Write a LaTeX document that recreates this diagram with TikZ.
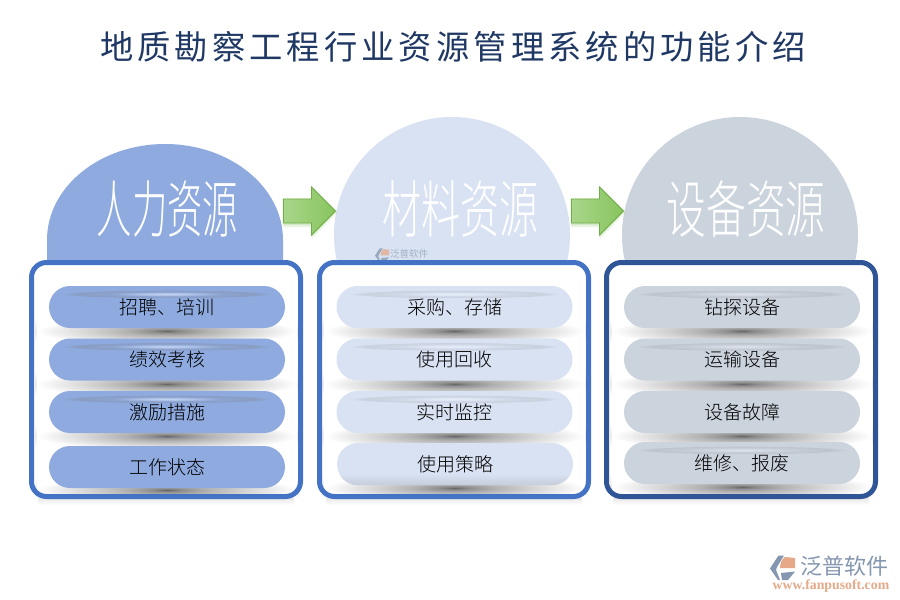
\documentclass[tikz,border=0pt]{standalone}
\usepackage{fontspec}
\newfontfamily\cjk{Noto Sans CJK SC}
\newfontfamily\cjklight[UprightFont={* Light}]{Noto Sans CJK SC}
\newfontfamily\cjktitle[LetterSpace=12.2]{Noto Sans CJK SC}
\setmainfont{Liberation Serif}
\definecolor{pa}{HTML}{8EAADF}
\definecolor{pb}{HTML}{D9E2F3}
\definecolor{pc}{HTML}{CBD3DD}
\definecolor{bluea}{HTML}{4472C4}
\definecolor{blueb}{HTML}{2F5597}
\definecolor{navy}{HTML}{1F3864}
\definecolor{logog}{HTML}{8496B0}
\definecolor{logoo}{HTML}{E5A98A}
\definecolor{arrowedge}{HTML}{70AD47}
\definecolor{arrowl}{HTML}{A8D68A}
\definecolor{arrowr}{HTML}{88C45E}
\definecolor{arrowglow}{HTML}{A9D18E}
\pgfdeclareradialshading{undershade}{\pgfpoint{0bp}{0bp}}{color(0bp)=(black!60); color(3bp)=(black!44); color(8bp)=(black!30); color(15bp)=(black!17); color(21bp)=(black!7); color(25bp)=(white); color(50bp)=(white)}
\pgfdeclareradialshading{glossa}{\pgfpoint{0bp}{0bp}}{color(0bp)=(pa!50!white); color(7bp)=(pa!75!white); color(13bp)=(pa!85!gray); color(21bp)=(pa!70!gray); color(25bp)=(pa); color(50bp)=(pa)}
\pgfdeclareradialshading{glossb}{\pgfpoint{0bp}{0bp}}{color(0bp)=(pb!65!white); color(7bp)=(pb!90!white); color(13bp)=(pb!90!gray); color(21bp)=(pb!82!gray); color(25bp)=(pb); color(50bp)=(pb)}
\pgfdeclareradialshading{glossc}{\pgfpoint{0bp}{0bp}}{color(0bp)=(pc!60!white); color(7bp)=(pc!90!white); color(13bp)=(pc!92!gray); color(21bp)=(pc!82!gray); color(25bp)=(pc); color(50bp)=(pc)}
\tikzset{
  x=1pt,y=-1pt,
  pilltext/.style={text=black,font=\cjklight\fontsize{19}{21}\selectfont,inner sep=0pt},
  pill/.style={pilltext,rounded corners=21pt,minimum width=236pt,minimum height=42pt},
  panel/.style={draw,line width=5pt,outer sep=0pt,rounded corners=15pt,inner sep=0pt,minimum width=269pt,minimum height=234pt},
  panelback/.style={panel,draw=none,fill=white},
  bigtext/.style={text=white,font=\cjklight\fontsize{62}{64}\selectfont,inner sep=0pt},
  blockarrow/.style={left color=arrowl,right color=arrowr,draw=arrowedge,line width=.8pt,line join=miter},
}
\newcommand{\undershadow}[2]{%
 \shade[top color=white,bottom color=black!8] (#1-132,#2-13) rectangle (#1+132,#2);
 \shade[top color=black!8,bottom color=white] (#1-132,#2) rectangle (#1+132,#2+12);
 \path[shading=undershade] (#1-130,#2-14) rectangle (#1+130,#2+14);}
\newcommand{\gloss}[3]{\path[shading=#3] (#1,#2) ellipse [x radius=106pt,y radius=4.2pt];}
\newcommand{\logomark}[4]{%
 \begin{scope}[shift={(#1,#2)},scale=#3,x=1pt,y=-1pt,opacity=#4]
  \fill[logog] (0,13.5) -- (8.5,.5) -- (14,.5) -- (7,12) -- (6,15) -- (10,25) -- (8,25) -- cycle;
  \fill[logoo] (10,13) .. controls (10,8) and (12,4) .. (15,2) -- (25,3) -- (25,13) -- cycle;
  \fill[logog] (11,18) -- (25,16.5) -- (18,25) -- (12,25) -- cycle;
 \end{scope}}
\newcommand{\blockarrowat}[1]{%
 \begin{scope}[shift={(#1,0)}]
  \fill[arrowglow,opacity=.25] (-1,198) -- (28,198) -- (28,186) -- (54,212) -- (28,239) -- (28,227) -- (-1,227) -- cycle;
  \fill[arrowglow,opacity=.3] (0,200) -- (28,200) -- (28,188) -- (52,212) -- (28,237) -- (28,225) -- (0,225) -- cycle;
  \path[blockarrow] (0,199) -- (28,199) -- (28,187) -- (52,211) -- (28,235) -- (28,223) -- (0,223) -- cycle;
 \end{scope}}
\begin{document}
\begin{tikzpicture}
\useasboundingbox (0,0) rectangle (900,600);
\fill[white] (0,0) rectangle (900,600);
\node[text=navy,font=\cjktitle\fontsize{33.3}{36}\selectfont,inner sep=0pt] (title) at (453,47) {地质勘察工程行业资源管理系统的功能介绍};
% head blobs
\path[fill=pa] (47,240) arc[start angle=180,end angle=0,x radius=118pt,y radius=96pt] -- (283,270) -- (47,270) -- cycle;
\path[fill=pb] (452,235) circle [radius=118pt];
\path[fill=pc] (740,235) circle [radius=118pt];
\node[bigtext,xscale=.57] (ha) at (167.5,209) {人力资源};
\node[bigtext,xscale=.63] (hb) at (460.5,209) {材料资源};
\node[bigtext,xscale=.64] (hc) at (746,209) {设备资源};
% watermark
\logomark{375}{248}{.56}{.75}
\node[text=logog!75!white,font=\cjk\fontsize{9.5}{10}\selectfont,inner sep=0pt] (wm) at (409,254) {泛普软件};
% arrows
\blockarrowat{283.5}
\blockarrowat{571.5}
% soft panel shadows
\foreach \xa/\xb in {38/294,326/582,613/869}{
  \shade[top color=black!9,bottom color=white] (\xa,498) rectangle (\xb,505);
}
% panels
\node[panelback] (pa0) at (166,379.5) {};
\node[panelback] (pb0) at (454,379.5) {};
\node[panelback] (pc0) at (741,379.5) {};
\begin{scope}
\clip (pa0.south west) rectangle (pa0.north east);
\foreach \y in {331,384,436,490}{\undershadow{167}{\y}}
\end{scope}
\begin{scope}
\clip (pb0.south west) rectangle (pb0.north east);
\foreach \y in {331,384,436,488}{\undershadow{454.5}{\y}}
\end{scope}
\begin{scope}
\clip (pc0.south west) rectangle (pc0.north east);
\foreach \y in {331,384,436,487}{\undershadow{742}{\y}}
\end{scope}
\node[panel,draw=bluea] (pa) at (166,379.5) {};
\node[panel,draw=bluea] (pb) at (454,379.5) {};
\node[panel,draw=blueb] (pc) at (741,379.5) {};
% pills
\node[pill,fill=pa] (a1) at (167,307) {招聘、培训};
\node[pill,fill=pa] (a2) at (167,359.5) {绩效考核};
\node[pill,fill=pa] (a3) at (167,412) {激励措施};
\node[pill,fill=pa] (a4) at (167,467) {工作状态};
\node[pill,fill=pb] (b1) at (454.5,307) {采购、存储};
\node[pill,fill=pb] (b2) at (454.5,359.5) {使用回收};
\node[pill,fill=pb] (b3) at (454.5,412) {实时监控};
\node[pill,fill=pb] (b4) at (455,464) {};
\node[pill,fill=pc] (c1) at (742,307) {钻探设备};
\node[pill,fill=pc] (c2) at (742,359.5) {运输设备};
\node[pill,fill=pc] (c3) at (742,412) {设备故障};
\node[pill,fill=pc] (c4) at (742,463) {维修、报废};
% gloss
\foreach \y in {294,346.5,399}{
  \gloss{167}{\y}{glossa}
  \gloss{454.5}{\y}{glossb}
}
\gloss{742}{294}{glossc}
\gloss{742}{346.5}{glossc}
\gloss{742}{450}{glossc}
\begin{scope}
\clip[rounded corners=21pt] (b4.south west) rectangle (b4.north east);
\shade[top color=pb,bottom color=pb!78!gray] (337,474) rectangle (573,485);
\end{scope}
\node[pilltext] (b4t) at (b4) {使用策略};
% logo
\logomark{770}{555}{1}{1}
\node[text=logog,font=\cjk\fontsize{22}{23}\selectfont,inner sep=0pt] (logotext) at (844,566) {泛普软件};
\node[text=logoo,font=\bfseries\fontsize{13.8}{14}\selectfont,inner sep=0pt] (logourl) at (831,586) {www.fanpusoft.com};
\end{tikzpicture}
\end{document}
